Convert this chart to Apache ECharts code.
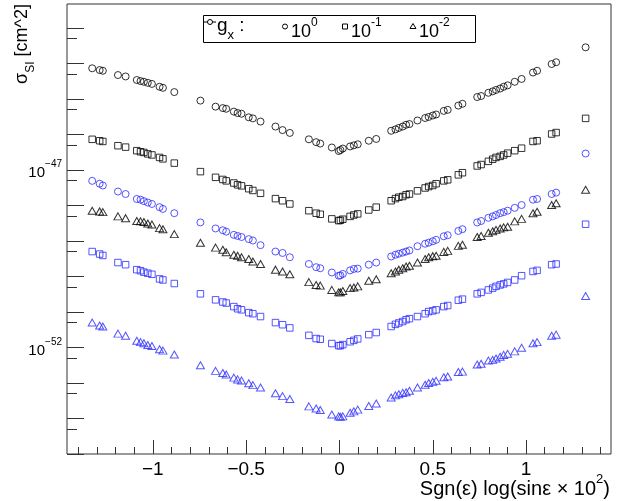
<!DOCTYPE html>
<html><head><meta charset="utf-8">
<script src="https://cdn.jsdelivr.net/npm/echarts@6/dist/echarts.min.js"></script>
<style>html,body{margin:0;padding:0;background:#fff}#c{width:634px;height:501px}</style>
</head><body><div id="c"></div>
<script>
// x: Sgn(eps) log(sin eps x 10^2)
const xValues = [-1.325,-1.285,-1.268,-1.187,-1.146,-1.086,-1.066,-1.048,-1.027,-1.005,-0.964,-0.946,-0.885,-0.745,-0.664,-0.625,-0.607,-0.566,-0.546,-0.525,-0.486,-0.464,-0.423,-0.343,-0.305,-0.266,-0.164,-0.125,-0.103,-0.041,-0.004,
  0.005,0.018,0.057,0.077,0.098,0.157,0.197,0.277,0.300,0.318,0.339,0.357,0.375,0.418,0.459,0.478,0.500,0.518,0.559,0.580,0.637,0.659,0.738,0.759,0.798,0.821,0.839,0.861,0.880,0.901,0.939,0.976,1.037,1.059,1.137,1.161,
  1.319];
// log10(sigma_SI / cm^2)
const logSigma_gx1_black = [-44.14,-44.19,-44.21,-44.33,-44.37,-44.47,-44.50,-44.52,-44.55,-44.58,-44.66,-44.69,-44.81,-45.05,-45.22,-45.26,-45.28,-45.36,-45.40,-45.42,-45.52,-45.55,-45.64,-45.78,-45.88,-45.96,-46.14,-46.22,-46.26,-46.37,-46.47,
  -46.44,-46.40,-46.34,-46.31,-46.28,-46.18,-46.13,-45.90,-45.86,-45.82,-45.78,-45.73,-45.71,-45.61,-45.54,-45.51,-45.47,-45.44,-45.34,-45.31,-45.19,-45.14,-44.95,-44.92,-44.83,-44.79,-44.75,-44.71,-44.66,-44.62,-44.52,-44.44,-44.26,-44.21,-44.02,-43.97,
  -43.55];
const logSigma_gx01_black = [-46.14,-46.18,-46.20,-46.32,-46.36,-46.46,-46.49,-46.51,-46.55,-46.58,-46.65,-46.69,-46.81,-47.05,-47.21,-47.27,-47.31,-47.37,-47.42,-47.45,-47.53,-47.58,-47.66,-47.81,-47.87,-47.96,-48.15,-48.22,-48.25,-48.38,-48.43,
  -48.42,-48.39,-48.31,-48.27,-48.24,-48.13,-48.05,-47.87,-47.81,-47.77,-47.75,-47.70,-47.68,-47.59,-47.51,-47.47,-47.44,-47.39,-47.31,-47.28,-47.14,-47.08,-46.89,-46.85,-46.76,-46.70,-46.65,-46.62,-46.58,-46.53,-46.46,-46.39,-46.20,-46.18,-45.99,-45.95,
  -45.55];
const logSigma_gx1_blue = [-47.31,-47.39,-47.44,-47.61,-47.68,-47.82,-47.84,-47.88,-47.92,-47.96,-48.05,-48.10,-48.22,-48.48,-48.65,-48.70,-48.74,-48.83,-48.86,-48.89,-48.95,-48.99,-49.12,-49.30,-49.34,-49.46,-49.65,-49.74,-49.77,-49.89,-49.98,
  -49.97,-49.93,-49.83,-49.79,-49.78,-49.67,-49.61,-49.44,-49.39,-49.36,-49.33,-49.30,-49.27,-49.15,-49.08,-49.05,-49.01,-48.97,-48.87,-48.84,-48.72,-48.67,-48.48,-48.44,-48.35,-48.31,-48.27,-48.22,-48.19,-48.15,-48.07,-47.99,-47.84,-47.82,-47.68,-47.64,
  -46.54];
const logSigma_gx001_black = [-48.15,-48.17,-48.19,-48.31,-48.36,-48.44,-48.45,-48.47,-48.51,-48.54,-48.64,-48.67,-48.81,-49.05,-49.19,-49.25,-49.32,-49.39,-49.42,-49.46,-49.51,-49.58,-49.65,-49.81,-49.86,-49.94,-50.16,-50.24,-50.26,-50.38,-50.45,
  -50.45,-50.41,-50.33,-50.31,-50.28,-50.12,-50.08,-49.91,-49.86,-49.81,-49.77,-49.72,-49.70,-49.61,-49.51,-49.46,-49.43,-49.42,-49.31,-49.28,-49.14,-49.11,-48.89,-48.86,-48.77,-48.73,-48.69,-48.65,-48.62,-48.60,-48.45,-48.38,-48.22,-48.18,-47.99,-47.94,
  -47.56];
const logSigma_gx01_blue = [-49.30,-49.37,-49.41,-49.61,-49.67,-49.81,-49.84,-49.88,-49.91,-49.94,-50.07,-50.10,-50.20,-50.49,-50.66,-50.72,-50.75,-50.85,-50.91,-50.94,-51.02,-51.05,-51.13,-51.30,-51.36,-51.45,-51.66,-51.75,-51.77,-51.89,-51.95,
  -51.95,-51.92,-51.84,-51.80,-51.76,-51.64,-51.58,-51.41,-51.35,-51.31,-51.27,-51.22,-51.19,-51.13,-51.05,-50.99,-50.97,-50.94,-50.85,-50.82,-50.67,-50.64,-50.49,-50.45,-50.38,-50.33,-50.28,-50.24,-50.21,-50.17,-50.10,-49.98,-49.86,-49.83,-49.67,-49.65,
  -48.53];
const logSigma_gx001_blue = [-51.30,-51.38,-51.41,-51.61,-51.67,-51.81,-51.85,-51.88,-51.93,-51.96,-52.05,-52.09,-52.20,-52.50,-52.66,-52.72,-52.76,-52.85,-52.90,-52.93,-53.01,-53.06,-53.13,-53.29,-53.37,-53.45,-53.66,-53.72,-53.76,-53.89,-53.94,
  -53.95,-53.94,-53.84,-53.80,-53.75,-53.65,-53.58,-53.41,-53.35,-53.32,-53.28,-53.26,-53.22,-53.13,-53.05,-53.00,-52.97,-52.94,-52.84,-52.82,-52.69,-52.68,-52.48,-52.46,-52.37,-52.35,-52.31,-52.26,-52.21,-52.18,-52.11,-52.01,-51.88,-51.85,-51.67,-51.64,
  -50.55];

const xMajorTicks = [-1, -0.5, 0, 0.5, 1];
const xMinorTicks = [-1.4,-1.3,-1.2,-1.1,-1,-0.9,-0.8,-0.7,-0.6,-0.5,-0.4,-0.3,-0.2,-0.1,0,0.1,0.2,0.3,0.4,0.5,0.6,0.7,0.8,0.9,1,1.1,1.2,1.3,1.4];
const yDecadeTicks = [-55,-54,-53,-52,-51,-50,-49,-48,-47,-46,-45,-44,-43];
const yHalfTicks = [-54.301,-53.301,-52.301,-51.301,-50.301,-49.301,-48.301,-47.301,-46.301,-45.301,-44.301,-43.301];
const yLabelTicks = [-47, -52];

const FONT = 'Liberation Sans, Arial, Helvetica, sans-serif';
const BLACK = '#000000', BLUE = '#2b2bff';

function mk(name, arr, symbol, size, color) {
  return {
    name, type: 'scatter', symbol, symbolSize: size,
    data: xValues.map((x, i) => [x, arr[i]]),
    itemStyle: { color: 'rgba(0,0,0,0)', borderColor: color, borderWidth: 1 },
    emphasis: { disabled: true }, silent: true, z: 5
  };
}
const minus = v => (v < 0 ? '\u2212' + Math.abs(v) : String(v));
const supRich = (big, small) => ({
  a: { fontSize: big, fontFamily: FONT, fill: '#000', color: '#000', lineHeight: big + 6, verticalAlign: 'bottom' },
  s: { fontSize: small, fontFamily: FONT, fill: '#000', color: '#000', lineHeight: small, verticalAlign: 'top' }
});
const subRich = (big, small) => ({
  a: { fontSize: big, fontFamily: FONT, fill: '#000', color: '#000', lineHeight: big + 6, verticalAlign: 'top' },
  s: { fontSize: small, fontFamily: FONT, fill: '#000', color: '#000', lineHeight: small, verticalAlign: 'bottom' }
});

const chart = echarts.init(document.getElementById('c'), null, { renderer: 'canvas' });
chart.setOption({
  animation: false,
  backgroundColor: '#fff',
  grid: { left: 67, right: 23, top: 4, bottom: 47, show: true, borderColor: '#333', borderWidth: 1, backgroundColor: 'rgba(0,0,0,0)' },
  xAxis: [
    { type: 'value', min: -1.46, max: 1.455, position: 'bottom',
      axisLine: { show: false, onZero: false }, splitLine: { show: false },
      axisTick: { show: true, inside: true, length: 7, customValues: xMinorTicks, lineStyle: { color: '#333' } },
      axisLabel: { show: false } },
    { type: 'value', min: -1.46, max: 1.455, position: 'bottom',
      axisLine: { show: false, onZero: false }, splitLine: { show: false },
      axisTick: { show: true, inside: true, length: 14, customValues: xMajorTicks, lineStyle: { color: '#333' } },
      axisLabel: { show: true, customValues: xMajorTicks, margin: 6, fontSize: 19, fontFamily: FONT, color: '#000', formatter: minus } }
  ],
  yAxis: [
    { type: 'value', min: -55, max: -42.33, position: 'left',
      axisLine: { show: false, onZero: false }, splitLine: { show: false },
      axisTick: { show: true, inside: true, length: 17, customValues: yDecadeTicks, lineStyle: { color: '#333' } },
      axisLabel: { show: true, customValues: yLabelTicks, margin: 5,
        formatter: v => '{a|10}{s|' + minus(v) + '}',
        rich: supRich(15, 10) } },
    { type: 'value', min: -55, max: -42.33, position: 'left',
      axisLine: { show: false, onZero: false }, splitLine: { show: false },
      axisTick: { show: true, inside: true, length: 10, customValues: yHalfTicks, lineStyle: { color: '#333' } },
      axisLabel: { show: false } }
  ],
  series: [
    mk('g_x = 10^0', logSigma_gx1_black, 'circle', 7, BLACK),
    mk('g_x = 10^-1', logSigma_gx01_black, 'rect', 6.5, BLACK),
    mk('g_x = 10^0 (blue)', logSigma_gx1_blue, 'circle', 7, BLUE),
    mk('g_x = 10^-2', logSigma_gx001_black, 'triangle', [8, 7], BLACK),
    mk('g_x = 10^-1 (blue)', logSigma_gx01_blue, 'rect', 6.5, BLUE),
    mk('g_x = 10^-2 (blue)', logSigma_gx001_blue, 'triangle', [8, 7], BLUE)
  ],
  graphic: [
    // y axis title
    { type: 'text', x: 25, y: 4, rotation: Math.PI / 2, silent: true,
      style: { text: '{a|\u03c3}{s|SI}{a| [cm^2]}', align: 'right', verticalAlign: 'middle', rich: subRich(18, 12) } },
    // x axis title
    { type: 'text', x: 610, y: 486, silent: true,
      style: { text: '{a|Sgn(\u03b5) log(sin\u03b5 \u00d7 10}{s|2}{a|)}', align: 'right', verticalAlign: 'middle', rich: supRich(20, 13) } },
    // legend box
    { type: 'rect', shape: { x: 203.5, y: 15.5, width: 272, height: 27 }, silent: true,
      style: { fill: '#fff', stroke: '#000', lineWidth: 1 }, z: 10 },
    { type: 'line', shape: { x1: 204, y1: 22, x2: 216, y2: 22 }, silent: true, style: { stroke: '#000', lineWidth: 1 }, z: 11 },
    { type: 'circle', shape: { cx: 210, cy: 22, r: 2.5 }, silent: true, style: { fill: '#fff', stroke: '#000', lineWidth: 1 }, z: 12 },
    { type: 'text', x: 217, y: 29, silent: true, z: 11,
      style: { text: '{a|g}{s|x}{a| :}', verticalAlign: 'middle', rich: subRich(19, 13) } },
    { type: 'circle', shape: { cx: 285, cy: 26.5, r: 2.5 }, silent: true, style: { fill: 'none', stroke: '#000', lineWidth: 1 }, z: 11 },
    { type: 'text', x: 291, y: 29, silent: true, z: 11,
      style: { text: '{a|10}{s|0}', verticalAlign: 'middle', rich: supRich(18, 12) } },
    { type: 'rect', shape: { x: 342.5, y: 24, width: 5, height: 5 }, silent: true, style: { fill: 'none', stroke: '#000', lineWidth: 1 }, z: 11 },
    { type: 'text', x: 351, y: 29, silent: true, z: 11,
      style: { text: '{a|10}{s|-1}', verticalAlign: 'middle', rich: supRich(18, 12) } },
    { type: 'polygon', shape: { points: [[413, 23.5], [416, 28.5], [410, 28.5]] }, silent: true, style: { fill: 'none', stroke: '#000', lineWidth: 1 }, z: 11 },
    { type: 'text', x: 419, y: 29, silent: true, z: 11,
      style: { text: '{a|10}{s|-2}', verticalAlign: 'middle', rich: supRich(18, 12) } }
  ]
});
</script></body></html>
